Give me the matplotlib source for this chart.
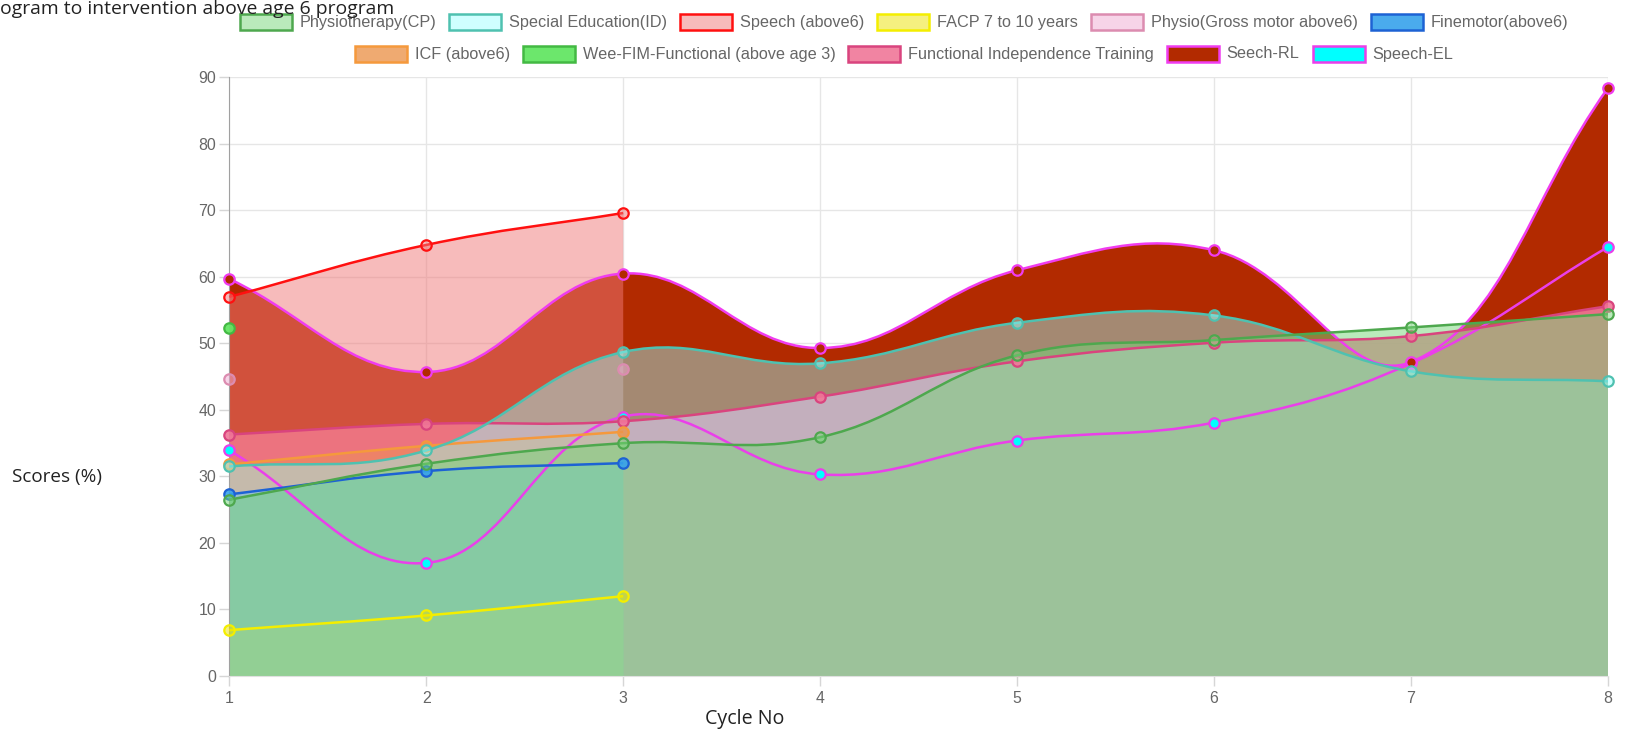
import numpy as np
import matplotlib
matplotlib.use("Agg")
import matplotlib.pyplot as plt
from matplotlib.path import Path
from matplotlib.patches import PathPatch, Rectangle

# ---------------- data ----------------
cycles = [1, 2, 3, 4, 5, 6, 7, 8]

physio_cp = [26.5, 31.9, 35.0, 35.9, 48.2, 50.5, 52.4, 54.4]
special_ed = [31.5, 33.9, 48.7, 47.0, 53.1, 54.2, 45.8, 44.3]
speech_above6 = [57.0, 64.8, 69.6]
facp_7_10 = [6.9, 9.1, 12.0]
physio_gross = [44.7, None, 46.1]
finemotor = [27.3, 30.8, 32.0]
icf_above6 = [31.8, 34.6, 36.7]
weefim = [52.3]
fit_training = [36.3, 37.9, 38.3, 42.0, 47.3, 50.1, 51.1, 55.6]
seech_rl = [59.7, 45.7, 60.5, 49.3, 61.0, 64.0, 47.2, 88.4]
speech_el = [33.9, 17.0, 39.0, 30.3, 35.4, 38.1, 47.0, 64.5]

labels = ["Physiotherapy(CP)", "Special Education(ID)", "Speech (above6)",
          "FACP 7 to 10 years", "Physio(Gross motor above6)", "Finemotor(above6)",
          "ICF (above6)", "Wee-FIM-Functional (above age 3)",
          "Functional Independence Training", "Seech-RL", "Speech-EL"]
values = [physio_cp, special_ed, speech_above6, facp_7_10, physio_gross, finemotor,
          icf_above6, weefim, fit_training, seech_rl, speech_el]
fill_colors = [(118, 214, 120, 0.5), (149, 255, 255, 0.45), (240, 120, 120, 0.5),
               (236, 227, 0, 0.5), (240, 170, 210, 0.5), (54, 162, 235, 0.9),
               (236, 149, 77, 0.8), (100, 230, 100, 0.95), (240, 119, 152, 0.9),
               (178, 42, 0, 1.0), (0, 255, 255, 1.0)]
border_colors = ["#4ea84e", "#4fc1b0", "#ff1010", "#f4ee00", "#dc8cb0", "#1d62d4",
                 "#f5993c", "#43b943", "#d9447e", "#f03cf0", "#ea3fea"]
has_fill = [True, True, True, True, True, True, True, True, True, True, False]

# ---------------- figure ----------------
W, H = 1634, 730
fig = plt.figure(figsize=(W / 100, H / 100), dpi=100)
L, R, T, B = 229.3, 1608.0, 77.3, 676.0
ax = fig.add_axes([L / W, 1 - B / H, (R - L) / W, (B - T) / H])
ax.set_xlim(1, 8)
ax.set_ylim(0, 90)
sx = (R - L) / 7.0
sy = (B - T) / 90.0

ax.set_xticks(cycles)
ax.set_xticklabels([str(c) for c in cycles])
ax.set_yticks(range(0, 91, 10))
ax.tick_params(axis="both", colors="#d6d6d6", labelcolor="#666666",
               labelsize=11.4, length=7.5, width=1)
ax.tick_params(axis="x", pad=3)
ax.tick_params(axis="y", pad=2)
for lab in ax.get_xticklabels() + ax.get_yticklabels():
    lab.set_family("Liberation Sans")
ax.grid(True, color="#e6e6e6", lw=1)
ax.set_axisbelow(True)
for s in ["top", "right"]:
    ax.spines[s].set_visible(False)
ax.spines["left"].set_color("#a0a0a0")
ax.spines["bottom"].set_color("#e0e0e0")


def rgba(c):
    return (c[0] / 255, c[1] / 255, c[2] / 255, c[3])


def spline(vals, t=0.4):
    n = len(vals)
    xs = np.array(cycles[:n], dtype=float)
    ys = np.array([np.nan if v is None else v for v in vals], dtype=float)
    pc = [None] * n
    nc = [None] * n
    for i in range(n):
        if np.isnan(ys[i]):
            continue
        cur = (xs[i], ys[i])
        p = (xs[i - 1], ys[i - 1]) if i > 0 and not np.isnan(ys[i - 1]) else cur
        q = (xs[i + 1], ys[i + 1]) if i < n - 1 and not np.isnan(ys[i + 1]) else cur
        d01 = np.hypot((cur[0] - p[0]) * sx, (cur[1] - p[1]) * sy)
        d12 = np.hypot((q[0] - cur[0]) * sx, (q[1] - cur[1]) * sy)
        tot = d01 + d12
        s01 = d01 / tot if tot > 0 else 0
        s12 = d12 / tot if tot > 0 else 0
        fa, fb = t * s01, t * s12
        px_ = np.clip(cur[0] - fa * (q[0] - p[0]), 1, 8)
        py_ = np.clip(cur[1] - fa * (q[1] - p[1]), 0, 90)
        nx_ = np.clip(cur[0] + fb * (q[0] - p[0]), 1, 8)
        ny_ = np.clip(cur[1] + fb * (q[1] - p[1]), 0, 90)
        pc[i] = (px_, py_)
        nc[i] = (nx_, ny_)
    runs = []
    cur_run = []
    for i in range(n):
        if np.isnan(ys[i]):
            if cur_run:
                runs.append(cur_run)
            cur_run = []
        else:
            cur_run.append(i)
    if cur_run:
        runs.append(cur_run)
    out = []
    for run in runs:
        if len(run) < 2:
            continue
        verts = [(xs[run[0]], ys[run[0]])]
        codes = [Path.MOVETO]
        for a, b in zip(run[:-1], run[1:]):
            verts += [nc[a], pc[b], (xs[b], ys[b])]
            codes += [Path.CURVE4] * 3
        out.append((verts, codes))
    return xs, ys, out


N = len(labels)
for i in range(N):
    xs, ys, segs = spline(values[i])
    base = (N - 1 - i)
    for verts, codes in segs:
        if has_fill[i]:
            fv = verts + [(verts[-1][0], 0), (verts[0][0], 0), verts[0]]
            fcodes = codes + [Path.LINETO, Path.LINETO, Path.CLOSEPOLY]
            ax.add_patch(PathPatch(Path(fv, fcodes), facecolor=rgba(fill_colors[i]),
                                   edgecolor="none", zorder=1 + base * 0.01))
        ax.add_patch(PathPatch(Path(verts, codes), facecolor="none",
                               edgecolor=border_colors[i], lw=1.8,
                               zorder=3 + base * 0.02))
    ax.plot(xs, ys, "o", ms=7.5, mfc=rgba(fill_colors[i]), mec=border_colors[i],
            mew=1.6, ls="none", zorder=3 + base * 0.02 + 0.01, clip_on=False)

# ---------------- overlay (legend & labels) ----------------
ov = fig.add_axes([0, 0, 1, 1])
ov.set_xlim(0, W)
ov.set_ylim(H, 0)
ov.axis("off")
ov.patch.set_alpha(0)
renderer = fig.canvas.get_renderer()

rows = [list(range(0, 6)), list(range(6, 11))]
row_y = [22.0, 54.0]
box_w, box_h, gap, pad = 52.0, 15.6, 7.8, 13.0
fs = 11.7
center_x = 904.0
for r_idx, row in enumerate(rows):
    widths = []
    texts = []
    for i in row:
        t = ov.text(0, row_y[r_idx], labels[i], fontsize=fs, family="Liberation Sans",
                    color="#666666", va="center", ha="left")
        bb = t.get_window_extent(renderer=renderer)
        widths.append(box_w + gap + bb.width)
        texts.append(t)
    total = sum(widths) + pad * (len(row) - 1)
    x = center_x - total / 2
    for k, i in enumerate(row):
        ov.add_patch(Rectangle((x, row_y[r_idx] - box_h / 2), box_w, box_h,
                               facecolor=rgba(fill_colors[i]), edgecolor=border_colors[i],
                               lw=1.8))
        texts[k].set_x(x + box_w + gap)
        x += widths[k] + pad


def fit_text(t, target):
    bb = t.get_window_extent(renderer=renderer)
    t.set_fontsize(t.get_fontsize() * target / bb.width)


t1 = ov.text(0, 13.5, "ogram to intervention above age 6 program", fontsize=14,
             family="Open Sans", color="#222222", ha="left", va="baseline")
fit_text(t1, 396)
t2 = ov.text(12.5, 477, "Scores (%)", fontsize=12, family="Open Sans",
             color="#222222", ha="left", va="center")
fit_text(t2, 89)
t3 = ov.text(745, 719, "Cycle No", fontsize=12, family="Open Sans",
             color="#222222", ha="center", va="center")
fit_text(t3, 79)

fig.savefig("out.png", dpi=100)
